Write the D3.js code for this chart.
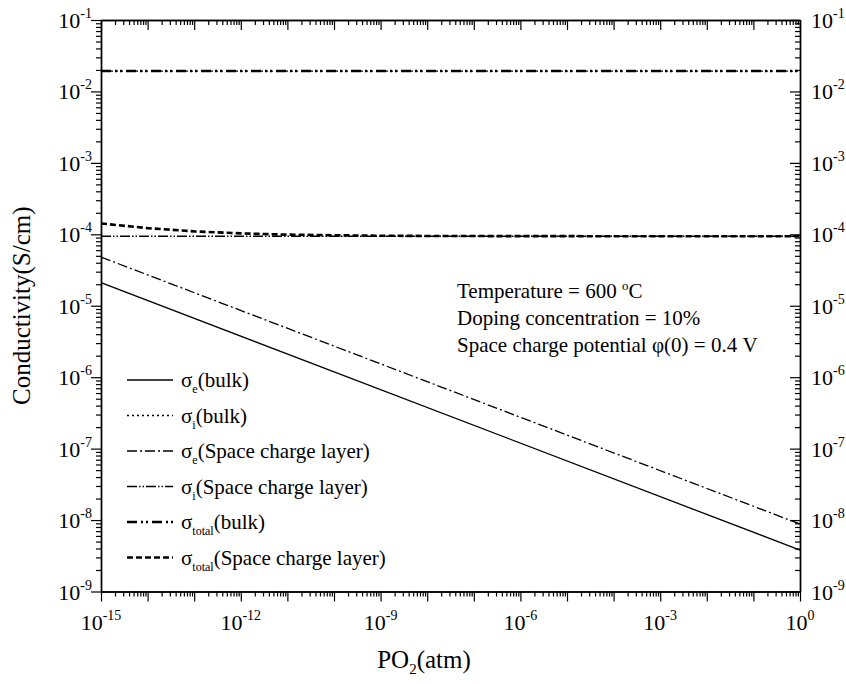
<!DOCTYPE html>
<html>
<head>
<meta charset="utf-8">
<script src="https://cdn.jsdelivr.net/npm/d3@7"></script>
<style>
  body { margin: 0; background: #fff; }
  text { font-family: "Liberation Serif", "Times New Roman", Times, "DejaVu Serif", serif; }
</style>
</head>
<body>
<svg id="chart" width="846" height="684"></svg>
<script>
// oxygen partial pressure (atm), end points of the straight lines
const po2Ends = [1e-15, 1];
const sigmaEBulk = [2.1e-5, 3.8e-9];
const sigmaIBulk = [1.93e-2, 1.93e-2];
const sigmaESCL = [4.8e-5, 8.8e-9];
const sigmaISCL = [9.4e-5, 9.4e-5];
const sigmaTotalBulk = [1.93e-2, 1.93e-2];

// total conductivity of the space charge layer (curved near low PO2)
const po2Total = [1e-15, 1e-14, 1e-13, 1e-12, 1e-11, 1e-10, 1e-9, 1e-8, 1e-6, 1e-3, 1];
const sigmaTotalSCL = [1.42e-4, 1.22e-4, 1.10e-4, 1.03e-4, 0.99e-4, 0.97e-4, 0.955e-4, 0.948e-4, 0.943e-4, 0.94e-4, 0.94e-4];

const xTickExp = [-15, -12, -9, -6, -3, 0];
const yTickExp = [-1, -2, -3, -4, -5, -6, -7, -8, -9];

const legendNames = [
  ["e", "(bulk)"],
  ["i", "(bulk)"],
  ["e", "(Space charge layer)"],
  ["i", "(Space charge layer)"],
  ["total", "(bulk)"],
  ["total", "(Space charge layer)"]
];
const annotation = ["Temperature = 600 ", "Doping concentration = 10%", "Space charge potential \u03c6(0) = 0.4 V"];

const FONT = "'Liberation Serif', 'Times New Roman', Times, 'DejaVu Serif', serif";

const svg = d3.select("#chart");
const plotL = 101, plotR = 800, plotT = 20, plotB = 591.5;

const x = d3.scaleLog().domain([1e-15, 1]).range([plotL, plotR]);
const y = d3.scaleLog().domain([1e-9, 1e-1]).range([plotB, plotT]);

// line styles for each series
const styles = [
  { w: 1.3, dash: null },
  { w: 1.3, dash: "2,3" },
  { w: 1.3, dash: "10,3,2,3" },
  { w: 1.3, dash: "10,2,1.5,2,1.5,2" },
  { w: 2.6, dash: "10,4,2,3,2,4" },
  { w: 2.6, dash: "6,3" }
];

const series = [
  po2Ends.map((p, i) => [p, sigmaEBulk[i]]),
  po2Ends.map((p, i) => [p, sigmaIBulk[i]]),
  po2Ends.map((p, i) => [p, sigmaESCL[i]]),
  po2Ends.map((p, i) => [p, sigmaISCL[i]]),
  po2Ends.map((p, i) => [p, sigmaTotalBulk[i]]),
  po2Total.map((p, i) => [p, sigmaTotalSCL[i]])
];

const line = d3.line().x(d => x(d[0])).y(d => y(d[1]));

series.forEach((s, i) => {
  svg.append("path")
    .datum(s)
    .attr("d", line)
    .attr("fill", "none")
    .attr("stroke", "#000")
    .attr("stroke-width", styles[i].w)
    .attr("stroke-dasharray", styles[i].dash);
});

// minor ticks 2..9 in every decade
function minors(lo, hi) {
  const out = [];
  for (let e = lo; e < hi; e++) {
    for (let m = 2; m <= 9; m++) out.push(m * Math.pow(10, e));
  }
  return out;
}
const xMajor = d3.range(-15, 1).map(e => Math.pow(10, e));
const yMajor = d3.range(-9, 0).map(e => Math.pow(10, e));
const xMinor = minors(-15, 0);
const yMinor = minors(-9, -1);

function drawAxis(axisFn, scale, major, minor, size, transform) {
  const g1 = svg.append("g").attr("transform", transform)
    .call(axisFn(scale).tickValues(major).tickFormat("").tickSizeInner(size).tickSizeOuter(0));
  const g2 = svg.append("g").attr("transform", transform)
    .call(axisFn(scale).tickValues(minor).tickFormat("").tickSizeInner(size / 2).tickSizeOuter(0));
  [g1, g2].forEach(g => {
    g.selectAll("line").attr("stroke", "#000").attr("stroke-width", 1.2);
    g.select(".domain").attr("stroke", "#000").attr("stroke-width", 1.4);
  });
}

drawAxis(d3.axisBottom, x, xMajor, xMinor, 10, `translate(0,${plotB})`);
drawAxis(d3.axisTop, x, xMajor, xMinor, -10, `translate(0,${plotT})`);
drawAxis(d3.axisLeft, y, yMajor, yMinor, 10, `translate(${plotL},0)`);
drawAxis(d3.axisRight, y, yMajor, yMinor, -10, `translate(${plotR},0)`);

// power-of-ten labels
function powLabel(xp, yp, exp, anchor) {
  const t = svg.append("text")
    .attr("x", xp).attr("y", yp)
    .attr("text-anchor", anchor)
    .attr("font-family", FONT)
    .style("font-size", "22px");
  t.append("tspan").text("10");
  t.append("tspan").attr("dy", -10).style("font-size", "14px").text(exp);
}

xTickExp.forEach(e => powLabel(x(Math.pow(10, e)), 630, e, "middle"));
yTickExp.forEach(e => {
  powLabel(92, y(Math.pow(10, e)) + 8, e, "end");
  powLabel(811, y(Math.pow(10, e)) + 8, e, "start");
});

// axis titles
const xt = svg.append("text")
  .attr("x", 424).attr("y", 668)
  .attr("text-anchor", "middle")
  .attr("font-family", FONT)
  .style("font-size", "25px");
xt.append("tspan").text("PO");
xt.append("tspan").attr("dy", 6).style("font-size", "15px").text("2");
xt.append("tspan").attr("dy", -6).text("(atm)");

svg.append("text")
  .attr("transform", `translate(30,${(plotT + plotB) / 2}) rotate(-90)`)
  .attr("text-anchor", "middle")
  .attr("font-family", FONT)
  .style("font-size", "25px")
  .text("Conductivity(S/cm)");

// legend
const legend = svg.append("g");
legendNames.forEach((n, i) => {
  const ly = 380 + i * 35.5;
  legend.append("line")
    .attr("x1", 127).attr("x2", 173)
    .attr("y1", ly).attr("y2", ly)
    .attr("stroke", "#000")
    .attr("stroke-width", styles[i].w)
    .attr("stroke-dasharray", styles[i].dash);
  const t = legend.append("text")
    .attr("x", 181).attr("y", ly + 7)
    .attr("font-family", FONT)
    .style("font-size", "21px");
  t.append("tspan").text("\u03c3");
  t.append("tspan").attr("dy", 6).style("font-size", "12px").text(n[0]);
  t.append("tspan").attr("dy", -6).text(n[1]);
});

// annotation text
annotation.forEach((a, i) => {
  const t = svg.append("text")
    .attr("x", 457).attr("y", 298 + i * 27)
    .attr("font-family", FONT)
    .style("font-size", "21px");
  t.append("tspan").text(a);
  if (i === 0) {
    t.append("tspan").attr("dy", -8).style("font-size", "13px").text("o");
    t.append("tspan").attr("dy", 8).text("C");
  }
});
</script>
</body>
</html>
